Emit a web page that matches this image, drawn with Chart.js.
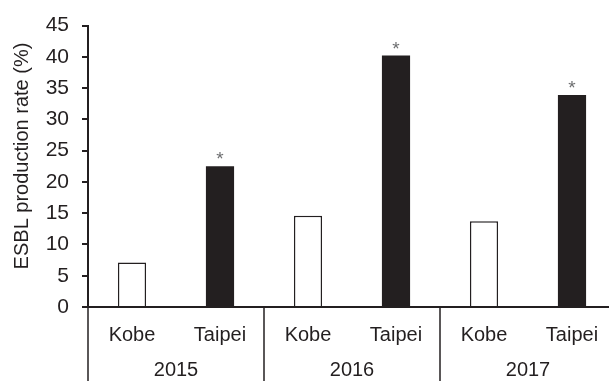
<!DOCTYPE html>
<html>
<head>
<meta charset="utf-8">
<script src="https://cdn.jsdelivr.net/npm/chart.js@4/dist/chart.umd.min.js"></script>
<style>
  html, body { margin: 0; padding: 0; background: #fff; overflow: hidden; }
  #wrap { position: relative; width: 620px; height: 381px; }
</style>
</head>
<body>
<div id="wrap"><canvas id="c"></canvas></div>
<script>
// Survey years and sites
const years = ['2015', '2016', '2017'];
const sites = ['Kobe', 'Taipei'];
// ESBL production rate (%) per year
const kobeRates = [7.1, 14.6, 13.7];
const taipeiRates = [22.5, 40.2, 33.9];
// Significant difference flags (Taipei vs Kobe)
const taipeiSignificant = [true, true, true];
// Y axis ticks
const yTicks = [0, 5, 10, 15, 20, 25, 30, 35, 40, 45];

const INK = '#231f20';
const FONT = '"Liberation Sans", Arial, sans-serif';

// One category per site within each year
const labels = [];
years.forEach(() => sites.forEach(s => labels.push(s)));

// Each site occupies its own slot inside the year group
const kobeData = kobeRates.flatMap(v => [v, null]);
const taipeiData = taipeiRates.flatMap(v => [null, v]);

const groupPlugin = {
  id: 'yearGroups',
  afterDraw(chart) {
    const ctx = chart.ctx;
    const xs = chart.scales.x;
    const area = chart.chartArea;
    const step = xs.getPixelForTick(1) - xs.getPixelForTick(0);
    const bottom = chart.height;

    ctx.save();
    // Group separators below the axis
    ctx.strokeStyle = INK;
    ctx.lineWidth = 1.5;
    for (let g = 0; g <= years.length; g++) {
      const x = Math.round(xs.getPixelForTick(0) - step / 2 + g * 2 * step);
      ctx.beginPath();
      ctx.moveTo(x, area.bottom);
      ctx.lineTo(x, bottom);
      ctx.stroke();
    }
    // Year labels
    ctx.fillStyle = INK;
    ctx.font = '20px ' + FONT;
    ctx.textAlign = 'center';
    ctx.textBaseline = 'middle';
    years.forEach((yr, g) => {
      const cx = (xs.getPixelForTick(g * 2) + xs.getPixelForTick(g * 2 + 1)) / 2;
      ctx.fillText(yr, cx, 370.5);
    });

    // Significance asterisks above Taipei bars
    const meta = chart.getDatasetMeta(1);
    ctx.fillStyle = '#6d6e70';
    ctx.font = '19px ' + FONT;
    ctx.textBaseline = 'alphabetic';
    taipeiSignificant.forEach((sig, g) => {
      const bar = meta.data[g * 2 + 1];
      if (sig && bar) ctx.fillText('*', bar.x, bar.y - 1);
    });

    // Y axis title
    ctx.fillStyle = INK;
    ctx.font = '20px ' + FONT;
    ctx.textBaseline = 'middle';
    ctx.translate(22, 156);
    ctx.rotate(-Math.PI / 2);
    ctx.fillText('ESBL production rate (%)', 0, 0);
    ctx.restore();
  }
};

new Chart(document.getElementById('c'), {
  type: 'bar',
  data: {
    labels: labels,
    datasets: [
      {
        label: sites[0],
        data: kobeData,
        backgroundColor: '#ffffff',
        borderColor: INK,
        borderWidth: 1.5,
        borderSkipped: 'bottom'
      },
      {
        label: sites[1],
        data: taipeiData,
        backgroundColor: INK,
        borderColor: INK,
        borderWidth: 0
      }
    ]
  },
  options: {
    responsive: true,
    maintainAspectRatio: false,
    animation: false,
    devicePixelRatio: 1,
    layout: { padding: { top: 18, right: 4, bottom: 0, left: 0 } },
    datasets: { bar: { grouped: false, categoryPercentage: 1, barPercentage: 0.32 } },
    plugins: { legend: { display: false }, tooltip: { enabled: false } },
    scales: {
      x: {
        type: 'category',
        grid: { display: false, drawTicks: false },
        border: { display: true, color: INK, width: 2 },
        ticks: {
          color: INK,
          font: { family: FONT, size: 20 },
          padding: 16,
          maxRotation: 0,
          autoSkip: false
        },
        afterFit(scale) { scale.height = 74; }
      },
      y: {
        min: 0,
        max: 45,
        afterBuildTicks(scale) { scale.ticks = yTicks.map(v => ({ value: v })); },
        grid: { drawOnChartArea: false, drawTicks: true, tickLength: 6, color: INK, lineWidth: 2 },
        border: { display: true, color: INK, width: 2 },
        ticks: {
          color: INK,
          font: { family: FONT, size: 21 },
          padding: 13
        },
        afterFit(scale) { scale.width = 88; }
      }
    }
  },
  plugins: [groupPlugin]
});
</script>
</body>
</html>
